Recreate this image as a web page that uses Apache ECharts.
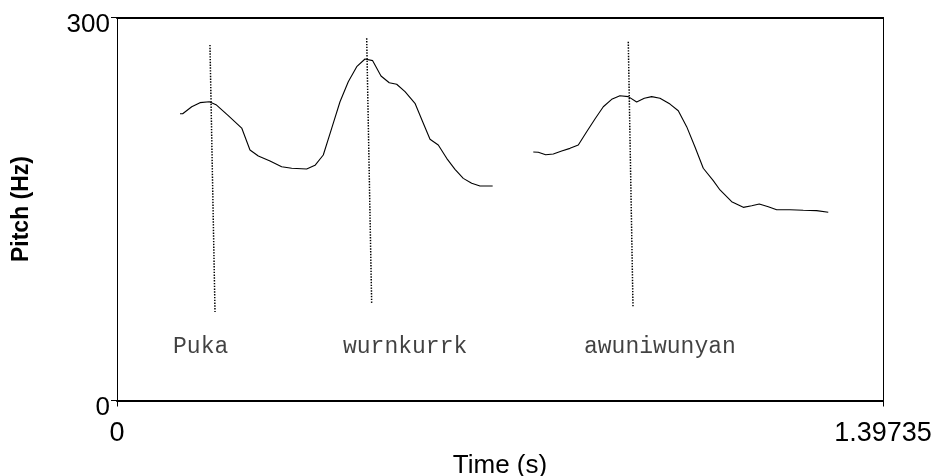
<!DOCTYPE html>
<html>
<head>
<meta charset="utf-8">
<script src="https://cdn.jsdelivr.net/npm/echarts@6/dist/echarts.min.js"></script>
<style>
html,body{margin:0;padding:0;background:#fff;}
#chart{width:938px;height:476px;}
</style>
</head>
<body>
<div id="chart"></div>
<script>
// Pitch contour, first voiced stretch (Puka wurnkurrk)
const time1 = [0.1149,0.1198,0.1363,0.1514,0.1684,0.1806,0.2030,0.2275,0.2426,0.2578,0.2791,0.3004,0.3187,0.3460,0.3612,0.3763,0.3916,0.4068,0.4219,0.4373,0.4524,0.4664,0.4816,0.4967,0.5102,0.5254,0.5436,0.5576,0.5710,0.5861,0.6014,0.6166,0.6317,0.6470,0.6622,0.6853];
const pitch1 = [224.6,224.6,230.1,233.3,234.0,231.7,223.1,213.4,196.2,191.5,187.6,183.1,181.9,181.3,184.2,192.3,213.2,234.0,249.7,261.5,267.5,266.2,254.2,248.9,247.7,241.9,232.8,218.4,204.6,200.1,189.7,181.1,174.0,170.1,168.0,168.0];
// Pitch contour, second voiced stretch (awuniwunyan)
const time2 = [0.7594,0.7685,0.7820,0.7959,0.8112,0.8263,0.8415,0.8568,0.8719,0.8871,0.9024,0.9175,0.9327,0.9480,0.9619,0.9754,0.9905,1.0088,1.0239,1.0392,1.0544,1.0695,1.0877,1.1000,1.1213,1.1425,1.1578,1.1716,1.1881,1.2034,1.2277,1.2519,1.2763,1.2975];
const pitch2 = [194.6,194.4,192.5,193.1,195.4,197.5,200.1,210.5,220.5,230.1,235.9,238.7,238.0,233.8,236.7,238.0,236.7,232.2,227.0,214.5,198.6,181.9,172.2,164.9,155.7,151.3,152.6,153.9,151.8,149.4,149.4,149.0,148.7,147.4];
// Word boundary markers (dotted): top and bottom points
const markTopTime = [0.1696,0.4555,0.9327];
const markTopHz = [278.5,283.7,281.0];
const markBotTime = [0.1788,0.4646,0.9413];
const markBotHz = [69.3,75.6,73.2];
// Word labels
const words = ['Puka','wurnkurrk','awuniwunyan'];
const wordTime = [0.1022,0.4123,0.8519];
const wordHz = [41.9,41.9,41.9];
// Axes
const xMin = 0, xMax = 1.39735;
const yMin = 0, yMax = 300;
const xTickValues = [0, 1.39735];
const yTickValues = [0, 300];

const zip = (a,b) => a.map((v,i)=>[v,b[i]]);

const series = [
  {type:'line', data: zip(time1,pitch1), symbol:'none', lineStyle:{color:'#000',width:1.1}, silent:true},
  {type:'line', data: zip(time2,pitch2), symbol:'none', lineStyle:{color:'#000',width:1.1}, silent:true}
];
for (let i=0;i<markTopTime.length;i++){
  series.push({type:'line', data:[[markTopTime[i],markTopHz[i]],[markBotTime[i],markBotHz[i]]],
    symbol:'none', silent:true, lineStyle:{color:'#000',width:1.5,type:[1.4,1.4]}});
}
series.push({
  type:'scatter', symbolSize:0, silent:true,
  data: words.map((w,i)=>({name:w, value:[wordTime[i],wordHz[i]]})),
  label:{show:true, position:'right', distance:0, formatter:p=>p.name,
    fontFamily:'Liberation Mono', fontSize:23, color:'#111'}
});

const chart = echarts.init(document.getElementById('chart'), null, {renderer:'canvas'});
chart.setOption({
  animation:false,
  backgroundColor:'#fff',
  grid:{left:117, right:55, top:17.5, bottom:75.5, containLabel:false, outerBoundsMode:'none'},
  xAxis:[{
    type:'value', min:xMin, max:xMax, position:'bottom',
    axisLine:{show:true, onZero:false, lineStyle:{color:'#000', width:2}},
    axisTick:{show:true, customValues:xTickValues, length:6, lineStyle:{color:'#000',width:1}},
    axisLabel:{customValues:xTickValues, formatter:v=>String(v), margin:20,
      fontFamily:'Liberation Sans', fontSize:27, color:'#000'},
    splitLine:{show:false},
    name:'Time (s)', nameLocation:'middle', nameGap:49,
    nameTextStyle:{fontFamily:'Liberation Sans', fontSize:26, color:'#000'}
  },{
    type:'value', min:xMin, max:xMax, position:'top',
    axisLine:{show:true, onZero:false, lineStyle:{color:'#000', width:2}},
    axisTick:{show:false}, axisLabel:{show:false}, splitLine:{show:false}
  }],
  yAxis:[{
    type:'value', min:yMin, max:yMax, position:'left',
    axisLine:{show:true, onZero:false, lineStyle:{color:'#000', width:1}},
    axisTick:{show:true, customValues:yTickValues, length:6, lineStyle:{color:'#000',width:1}},
    axisLabel:{customValues:yTickValues, formatter:v=>String(v), margin:7,
      verticalAlign:'top', lineHeight:14,
      fontFamily:'Liberation Sans', fontSize:26, color:'#000'},
    splitLine:{show:false},
    name:'Pitch (Hz)', nameLocation:'middle', nameGap:84, nameRotate:90,
    nameTextStyle:{fontFamily:'Liberation Sans', fontSize:23, fontWeight:'bold', color:'#000'}
  },{
    type:'value', min:yMin, max:yMax, position:'right',
    axisLine:{show:true, onZero:false, lineStyle:{color:'#000', width:1}},
    axisTick:{show:false}, axisLabel:{show:false}, splitLine:{show:false}
  }],
  series: series
});
</script>
</body>
</html>
